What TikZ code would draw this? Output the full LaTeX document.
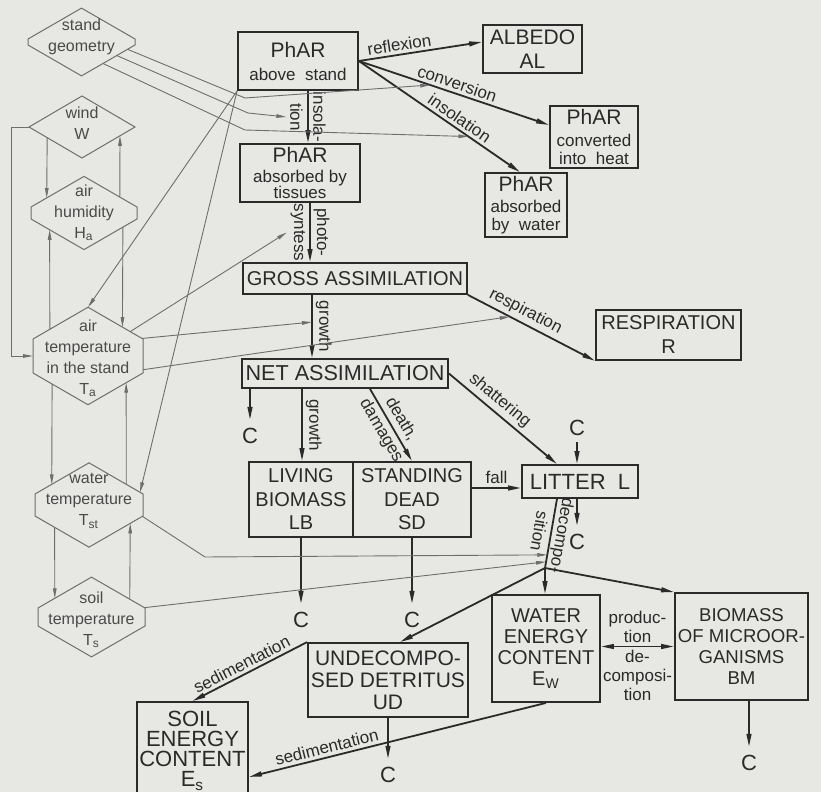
\documentclass[tikz,border=0pt]{standalone}
\usepackage{fontspec}
\setmainfont{Liberation Sans}
\usetikzlibrary{arrows.meta,shapes.geometric,shapes.symbols}
\definecolor{paper}{HTML}{E7E7E3}
\definecolor{ink}{HTML}{2A2A2A}
\definecolor{thin}{HTML}{6E6E6E}
\definecolor{hexink}{HTML}{4A4A4A}

\newcommand\capsize{\fontsize{10.5}{12}\selectfont}
\newcommand\subsize{\fontsize{8.5}{9.5}\selectfont}
\newcommand\lblsize{\fontsize{8.5}{9.5}\selectfont}
\newcommand\hexsize{\fontsize{8}{10.5}\selectfont}

\begin{document}
\begin{tikzpicture}[x=0.5pt,y=-0.5pt,text=ink,
  box/.style={draw=ink,line width=0.9pt,align=center,inner sep=0pt,font=\capsize},
  hexa/.style={signal,signal to=north and south,signal pointer angle=120,
    draw=thin,line width=0.5pt,outer sep=0pt},
  hexlabel/.style={align=center,font=\hexsize,text=hexink,inner sep=0pt},
  flow/.style={draw=ink,line width=0.9pt,-{Triangle[length=6.5pt,width=2.4pt]}},
  tocee/.style={flow,shorten >=3pt},
  link/.style={draw=ink,line width=0.9pt},
  infl/.style={draw=thin,line width=0.45pt,-{Triangle[length=5pt,width=1.8pt]}},
  lbl/.style={font=\lblsize,inner sep=1.5pt},
  cee/.style={font=\fontsize{11}{12}\selectfont,inner sep=1pt}]
  \useasboundingbox (0,0) rectangle (821,792);
  \fill[paper] (0,0) rectangle (821,792);
  \clip (0,0) rectangle (821,792);

  % driving variables
  \node[hexa,inner xsep=26.75pt,inner ysep=1.5pt] (geo) at (81.5,42) {};
  \node[hexlabel] (geotext) at (81.5,37) {stand\\geometry};
  \node[diamond,draw=thin,line width=0.5pt,outer sep=0pt,inner sep=0pt,
        minimum width=53pt,minimum height=31pt] (wind) at (82,127) {};
  \node[hexlabel] (windtext) at (82,123) {wind\\W};
  \node[hexa,inner xsep=26.5pt,inner ysep=3pt] (hum) at (84,213) {};
  \node[hexlabel] (humtext) at (84,213) {air\\humidity\\H\textsubscript{a}};
  \node[hexa,inner xsep=27.5pt,inner ysep=8.5pt] (tair) at (88,356) {};
  \node[hexlabel] (tairtext) at (88,358) {air\\temperature\\in the stand\\T\textsubscript{a}};
  \node[hexa,inner xsep=27pt,inner ysep=5.5pt] (twat) at (89,505) {};
  \node[hexlabel] (twattext) at (89,501) {water\\temperature\\T\textsubscript{st}};
  \node[hexa,inner xsep=26.75pt,inner ysep=4.5pt] (tsoil) at (91.5,617) {};
  \node[hexlabel] (tsoiltext) at (91.5,620) {soil\\temperature\\T\textsubscript{s}};

  % compartments
  \node[box,minimum width=60pt,minimum height=29pt,font=\fontsize{10.5}{11.5}\selectfont]
    (above) at (298,61) {PhAR\\\subsize above\ \ stand};
  \node[box,minimum width=49.5pt,minimum height=24pt] (albedo) at (532.5,49) {ALBEDO\\AL};
  \node[box,minimum width=44pt,minimum height=31pt,font=\fontsize{10.5}{11}\selectfont]
    (heat) at (594,137) {PhAR\\\subsize converted\\[-2pt]\subsize into\ \ heat};
  \node[box,minimum width=41pt,minimum height=32pt,font=\fontsize{10.5}{10.5}\selectfont]
    (water) at (526,205) {PhAR\\\subsize absorbed\\[-1.5pt]\subsize by\ \ water};
  \node[box,minimum width=60pt,minimum height=29pt,font=\fontsize{10.5}{10}\selectfont]
    (tissue) at (300,173) {PhAR\\\subsize absorbed by\\[-2pt]\subsize tissues};
  \node[box,minimum width=112pt,minimum height=15.5pt,font=\fontsize{10}{11}\selectfont]
    (gross) at (355,278.5) {GROSS ASSIMILATION};
  \node[box,minimum width=72.5pt,minimum height=25pt,font=\fontsize{10}{12}\selectfont]
    (resp) at (668.5,335) {RESPIRATION\\R};
  \node[box,minimum width=103pt,minimum height=14.5pt,font=\fontsize{10.8}{12}\selectfont]
    (net) at (345,373.5) {NET ASSIMILATION};
  \node[box,minimum width=52pt,minimum height=37.5pt,font=\fontsize{10}{11.75}\selectfont]
    (lb) at (301,499.5) {LIVING\\BIOMASS\\LB};
  \node[box,minimum width=59pt,minimum height=37.5pt,font=\fontsize{10}{11.75}\selectfont]
    (sd) at (412,499.5) {STANDING\\DEAD\\SD};
  \node[box,minimum width=58pt,minimum height=16.5pt,font=\fontsize{11}{12}\selectfont]
    (litter) at (580,481.5) {LITTER\ \ L};
  \node[box,minimum width=54pt,minimum height=53.5pt,font=\fontsize{10}{10.5}\selectfont]
    (ew) at (546,648.5) {WATER\\ENERGY\\CONTENT\\E\textsubscript{W}};
  \node[box,minimum width=66.5pt,minimum height=53.5pt,font=\fontsize{9.3}{10.5}\selectfont]
    (bm) at (741.5,646.5) {BIOMASS\\OF MICROOR-\\GANISMS\\BM};
  \node[box,minimum width=80pt,minimum height=37pt,font=\fontsize{10.5}{11}\selectfont]
    (ud) at (388,680) {UNDECOMPO-\\SED DETRITUS\\UD};
  \node[box,minimum width=55.5pt,minimum height=49pt,font=\fontsize{11}{10}\selectfont]
    (es) at (192.5,751) {SOIL\\ENERGY\\CONTENT\\E\textsubscript{s}};

  \node[cee] (c1) at (250,436) {C};
  \node[cee] (c2) at (577,428) {C};
  \node[cee] (c3) at (577,542) {C};
  \node[cee] (c4) at (301,620) {C};
  \node[cee] (c5) at (412,620) {C};
  \node[cee] (c6) at (388,775) {C};
  \node[cee] (c7) at (749,763) {C};
  \coordinate (jn) at (545,568);

  % matter and energy flows
  \draw[flow] (above.east) -- node[lbl,pos=0.34,above,sloped] {reflexion}
    ([yshift=3.5pt]albedo.west);
  \draw[flow] (above.east) -- node[lbl,pos=0.5,above,sloped] {conversion}
    coordinate[pos=0.375] (conv) ([yshift=6pt]heat.west);
  \draw[flow] (above.east) -- node[lbl,pos=0.59,above,sloped] {insolation}
    coordinate[pos=0.68] (insw) ([xshift=-3pt]water.north);
  \draw[flow] ([xshift=5pt]above.south) -- node[lbl,rotate=-90,align=center] (lbins)
    {insola-\\[2pt]tion} ([xshift=5pt]above.south |- tissue.north);
  \draw[flow] ([xshift=5pt]tissue.south) -- node[lbl,rotate=-90,align=center] (lbphot)
    {photo-\\[2pt]syntess} ([xshift=5pt]tissue.south |- gross.north);
  \draw[flow] ([xshift=-21.5pt]gross.south) -- node[lbl,rotate=-90,anchor=south] {growth}
    coordinate[pos=0.43] (grw) ([xshift=-21.5pt]gross.south |- net.north);
  \draw[flow] (gross.south east) -- node[lbl,pos=0.41,above,sloped] {respiration}
    coordinate[pos=0.33] (rsp) (resp.south west);
  \draw[flow] ([xshift=-21.5pt]net.south) -- node[lbl,rotate=-90,anchor=south] {growth}
    ([xshift=-21.5pt]net.south |- lb.north);
  \draw[flow] ([xshift=12.5pt]net.south) -- node[lbl,sloped,align=center]
    {death,\\[2pt]damages} (sd.north);
  \draw[flow] (net.east) -- node[lbl,pos=0.4,above,sloped] {shattering}
    ([xshift=-11.5pt]litter.north);
  \draw[flow] ([yshift=5.75pt]sd.east) -- node[lbl,above] {fall}
    ([yshift=5.75pt]sd.east -| litter.west);
  \draw[link] ([xshift=-11.5pt]litter.south) -- node[lbl,sloped,allow upside down,align=center]
    {decompo-\\[2pt]sition} coordinate[pos=0.81] (dc1) coordinate[pos=0.91] (dc2) (jn);
  \draw[flow] (jn) -- (jn |- ew.north);
  \draw[flow] (jn) -- (bm.north west);
  \draw[flow] (jn) -- ([xshift=6pt]ud.north);
  \draw[flow,{Triangle[length=6.5pt,width=2.4pt]}-{Triangle[length=6.5pt,width=2.4pt]}]
    (bm.west -| ew.east) -- node[lbl,above,align=center] {produc-\\tion}
    node[lbl,below,align=center] {de-\\composi-\\tion} (bm.west);
  \draw[flow] (ud.north west) -- node[lbl,pos=0.53,above,sloped] {sedimentation} (es.north);
  \draw[flow] (ew.south) -- node[lbl,pos=0.73,above,sloped] {sedimentation}
    ([yshift=-13pt]es.east);

  \draw[tocee] (net.south -| c1.north) -- (c1.north);
  \draw[flow,shorten <=2pt] (c2.south) -- (c2.south |- litter.north);
  \draw[tocee] (litter.south -| c3.north) -- (c3.north);
  \draw[tocee] (lb.south) -- (c4.north);
  \draw[tocee] (sd.south) -- (c5.north);
  \draw[tocee] (ud.south) -- (c6.north);
  \draw[tocee] (bm.south -| c7.north) -- (c7.north);

  % influences
  \draw[infl] (wind.west) -- ++(-18,0) |- (tair.west);
  \draw[infl] (wind.197) -- (hum.158);
  \draw[infl] (hum.24) -- (wind.-13);
  \draw[infl] (tair.145) -- (hum.206);
  \draw[infl] (hum.-20) -- (tair.40);
  \draw[infl] (tair.218) -- (twat.151);
  \draw[infl] (twat.29) -- (tair.-35);
  \draw[infl] (twat.213) -- (tsoil.153);
  \draw[infl] (tsoil.25) -- (twat.-24);

  \draw[infl] (geo.-9) -- (245,98) -- (conv);
  \draw[infl] (geo.-21) -- (248,113) -- (lbins.south);
  \draw[infl] (geo.-45) -- (245,130) -- (insw);
  \draw[infl] (above.south west) -- (tair.north);
  \draw[infl] (above.south west) -- (twat.14);
  \draw[infl] (tair.30) -- (lbphot.south);
  \draw[infl] (tair.18) -- (grw);
  \draw[infl] (tair.-14) -- (rsp);
  \draw[infl] (twat.-12) -- (205,557) -- (dc1);
  \draw[infl] (tsoil.10) -- (dc2);
\end{tikzpicture}
\end{document}
